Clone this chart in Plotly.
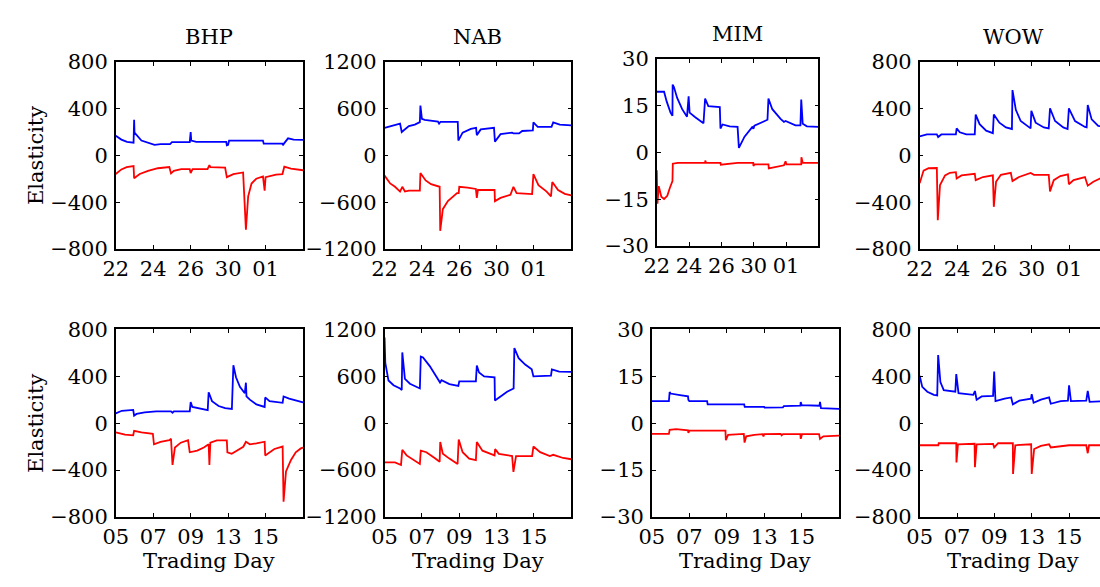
import plotly.graph_objects as go

# ---------------- tick labels / categories ----------------
stocks = ["BHP", "NAB", "MIM", "WOW"]
tick_pos = [0, 2, 4, 6, 8]
top_day_labels = ["22", "24", "26", "30", "01"]
bottom_day_labels = ["05", "07", "09", "13", "15"]
ytick_vals = {"BHP": [800, 400, 0, -400, -800],
              "NAB": [1200, 600, 0, -600, -1200],
              "MIM": [30, 15, 0, -15, -30],
              "WOW": [800, 400, 0, -400, -800]}

# ---------------- data (trading-day index, elasticity) ----------------
bhp1_blue_x = [0, 0.3, 0.6, 0.95, 0.98, 1.0, 1.37, 1.8, 2.07, 2.4, 2.9, 3.0, 3.95, 4.0, 4.03, 4.3, 5.9, 5.93, 6.0, 6.05, 7.86, 7.9, 8.9, 8.93, 9.0, 9.2, 9.5, 10]
bhp1_blue_y = [168, 135, 115, 108, 304, 195, 127, 108, 90, 97, 97, 113, 113, 200, 127, 115, 115, 86, 90, 127, 127, 100, 100, 86, 105, 146, 135, 132]
bhp1_red_x = [0, 0.3, 0.58, 0.95, 0.98, 1.28, 1.72, 2.25, 2.86, 2.95, 3.1, 3.5, 3.95, 4.0, 4.1, 4.9, 5.0, 5.05, 5.84, 5.93, 6.28, 6.8, 6.95, 7.07, 7.25, 7.5, 7.86, 7.95, 8.0, 8.56, 8.9, 9.0, 9.35, 10]
bhp1_red_y = [-159, -120, -100, -91, -195, -159, -132, -110, -100, -154, -132, -118, -118, -151, -118, -118, -83, -100, -104, -186, -160, -146, -636, -350, -241, -200, -180, -301, -186, -165, -160, -97, -113, -127]

nab1_blue_x = [0, 0.5, 0.83, 0.92, 1.3, 1.62, 1.89, 1.92, 2.0, 2.15, 2.86, 2.92, 3.0, 3.92, 3.95, 4.18, 4.62, 4.9, 4.94, 5.15, 5.86, 5.91, 6.21, 6.83, 6.9, 7.2, 7.37, 7.94, 7.97, 8.2, 8.94, 9.03, 9.38, 10]
nab1_blue_y = [354, 385, 407, 300, 375, 395, 427, 640, 470, 456, 435, 407, 431, 431, 190, 292, 341, 354, 260, 333, 354, 177, 272, 292, 282, 282, 313, 321, 423, 366, 366, 423, 395, 386]
nab1_red_x = [0, 0.3, 0.56, 0.83, 0.95, 1.09, 1.3, 1.89, 1.92, 2.2, 2.49, 2.86, 2.95, 2.98, 3.12, 3.39, 3.65, 3.88, 3.97, 4.0, 4.44, 4.89, 4.94, 5.0, 5.89, 5.91, 6.21, 6.74, 6.9, 7.07, 7.9, 7.97, 8.24, 8.68, 8.91, 8.98, 9.29, 9.65, 10]
nab1_red_y = [-260, -360, -403, -464, -403, -464, -452, -452, -227, -321, -370, -395, -403, -968, -690, -587, -526, -485, -485, -403, -415, -431, -546, -444, -444, -587, -546, -505, -403, -485, -497, -239, -382, -464, -526, -341, -444, -493, -513]

mim1_blue_x = [0, 0.45, 0.61, 0.85, 0.97, 0.98, 1.06, 1.26, 1.57, 1.87, 1.97, 2.03, 2.38, 2.89, 2.99, 3.19, 3.9, 3.94, 4.07, 4.51, 5.0, 5.08, 5.43, 5.83, 5.93, 5.98, 6.04, 6.55, 6.85, 6.91, 7.15, 7.66, 7.87, 7.97, 8.58, 8.89, 8.94, 9.03, 9.29, 10]
mim1_blue_y = [19.5, 19.5, 16.4, 12.8, 11.8, 21.8, 21, 17.5, 13.9, 11.5, 18, 12.8, 11.3, 9.4, 17.3, 14.9, 14.6, 7.7, 9, 8.4, 8.2, 1.5, 5.1, 7.4, 8.3, 7.6, 8.6, 9.8, 10.5, 17.3, 13.9, 10.8, 9.8, 10.1, 8.7, 8.7, 17, 9.2, 8.4, 8.2]
mim1_red_x = [0, 0.04, 0.12, 0.28, 0.45, 0.65, 0.81, 0.97, 0.99, 1.3, 2.99, 3.0, 3.05, 3.94, 3.96, 4.5, 5.0, 5.97, 5.98, 6.05, 6.91, 6.93, 7.56, 7.87, 7.97, 8.02, 8.94, 8.95, 9.03, 10]
mim1_red_y = [-5.7, -16.4, -10.8, -14.2, -14.9, -13.9, -11.3, -9.2, -3.6, -3.3, -3.3, -2.6, -3.3, -3.3, -3.9, -3.6, -3.3, -3.3, -4.3, -3.8, -3.8, -5.1, -4.4, -4.1, -2.8, -3.8, -3.8, -1.5, -3.3, -3.3]

wow1_blue_x = [0, 0.39, 0.92, 0.99, 1.16, 1.94, 1.98, 2.15, 2.5, 2.95, 3.0, 3.21, 3.56, 3.92, 3.97, 4.27, 4.62, 4.94, 4.97, 5.15, 5.41, 5.86, 5.94, 5.98, 6.21, 6.65, 6.91, 6.98, 7.25, 7.69, 7.92, 7.99, 8.32, 8.85, 8.94, 9.0, 9.21, 9.56, 10]
wow1_blue_y = [163, 179, 179, 157, 179, 179, 231, 198, 179, 179, 349, 267, 212, 190, 349, 280, 239, 226, 559, 390, 294, 245, 231, 381, 280, 239, 231, 403, 294, 239, 226, 403, 294, 243, 240, 431, 308, 253, 240]
wow1_red_x = [0, 0.21, 0.48, 0.92, 0.97, 1.09, 1.36, 1.62, 1.94, 1.98, 2.24, 2.95, 3.0, 3.39, 3.92, 3.97, 4.09, 4.35, 4.88, 4.97, 5.32, 5.86, 5.94, 6.12, 6.91, 6.98, 7.18, 7.53, 7.94, 7.99, 8.24, 8.85, 9.0, 9.3, 9.65, 10]
wow1_red_y = [-239, -130, -110, -108, -554, -253, -171, -149, -144, -198, -171, -157, -212, -185, -171, -440, -226, -166, -149, -220, -185, -157, -150, -166, -166, -308, -212, -177, -163, -247, -212, -185, -259, -226, -198, -190]

bhp2_blue_x = [0, 0.32, 0.93, 0.98, 1.11, 1.54, 2.16, 2.95, 3.03, 3.1, 3.95, 4.0, 4.09, 4.53, 4.91, 4.96, 5.14, 5.49, 5.84, 6.2, 6.28, 6.42, 6.63, 6.89, 6.95, 6.98, 7.16, 7.51, 7.95, 7.98, 8.21, 8.91, 8.96, 9.26, 9.7, 10]
bhp2_blue_y = [84, 106, 114, 65, 79, 93, 101, 101, 90, 101, 101, 180, 139, 125, 112, 264, 188, 147, 128, 122, 495, 392, 310, 256, 346, 229, 201, 161, 139, 220, 188, 174, 229, 210, 188, 177]
bhp2_red_x = [0, 0.49, 0.93, 0.98, 1.37, 1.98, 2.04, 2.39, 2.86, 2.95, 3.03, 3.16, 3.47, 3.86, 3.95, 4.35, 4.7, 4.96, 5.0, 5.05, 5.4, 5.93, 5.96, 6.19, 6.46, 6.81, 6.95, 7.16, 7.51, 7.95, 7.98, 8.21, 8.47, 8.91, 8.96, 9.09, 9.35, 9.61, 9.88, 10]
bhp2_red_y = [-79, -98, -103, -65, -79, -90, -180, -160, -144, -133, -356, -207, -166, -144, -248, -234, -207, -180, -356, -166, -147, -147, -248, -261, -234, -201, -158, -180, -172, -158, -275, -248, -220, -199, -669, -411, -316, -248, -215, -209]

nab2_blue_x = [0, 0.04, 0.21, 0.48, 0.83, 0.92, 0.95, 1.09, 1.36, 1.71, 1.89, 1.94, 2.06, 2.42, 2.77, 2.97, 3.05, 3.47, 3.95, 4.0, 4.89, 4.94, 5.06, 5.33, 5.89, 5.91, 6.21, 6.56, 6.91, 6.95, 7.18, 7.53, 7.88, 7.97, 8.91, 8.96, 9.35, 10]
nab2_blue_y = [1098, 771, 547, 486, 445, 424, 906, 567, 506, 465, 445, 853, 841, 731, 600, 520, 550, 500, 478, 535, 535, 739, 649, 600, 588, 290, 343, 404, 445, 963, 833, 751, 690, 600, 608, 690, 661, 657]
nab2_red_x = [0, 0.56, 0.88, 0.95, 1.18, 1.71, 1.89, 1.94, 2.24, 2.68, 2.95, 2.98, 3.12, 3.47, 3.91, 3.97, 4.18, 4.53, 4.89, 4.94, 5.24, 5.68, 5.89, 5.92, 6.12, 6.83, 6.9, 7.04, 7.9, 7.97, 8.33, 8.85, 9.03, 9.56, 10]
nab2_red_y = [-502, -502, -535, -339, -412, -494, -522, -351, -371, -445, -494, -241, -392, -453, -522, -208, -371, -453, -473, -241, -351, -392, -412, -331, -392, -420, -624, -420, -420, -298, -371, -420, -404, -445, -461]

mim2_blue_x = [0, 0.91, 0.95, 1.0, 1.5, 1.93, 1.95, 2.0, 2.95, 2.98, 4.93, 4.96, 6.0, 6.02, 7.0, 7.05, 7.93, 7.95, 8.0, 8.95, 8.98, 9.03, 10]
mim2_blue_y = [7.1, 7.1, 10.0, 9.5, 9.0, 8.6, 7.5, 7.1, 7.1, 6.0, 6.0, 5.2, 5.2, 5.0, 5.1, 5.5, 5.6, 6.8, 5.8, 5.6, 6.8, 4.8, 4.6]
mim2_red_x = [0, 0.91, 0.95, 1.3, 1.93, 1.95, 2.0, 3.93, 3.95, 4.07, 4.91, 4.95, 5.04, 5.47, 5.91, 5.96, 6.0, 6.88, 6.93, 7.0, 7.93, 7.95, 8.02, 8.93, 8.98, 9.16, 10]
mim2_red_y = [-3.4, -3.4, -2.1, -1.9, -2.3, -3.1, -2.4, -2.4, -5.4, -3.7, -3.4, -6.2, -4.2, -3.7, -3.5, -4.2, -3.5, -3.4, -3.9, -3.5, -3.5, -5.0, -3.5, -3.5, -5.0, -4.2, -4.0]

wow2_blue_x = [0, 0.14, 0.41, 0.76, 0.94, 0.99, 1.11, 1.29, 1.91, 1.96, 2.08, 2.87, 2.96, 3.05, 3.32, 3.93, 3.99, 4.06, 4.55, 4.9, 4.99, 5.34, 5.96, 6.0, 6.1, 6.49, 6.93, 7.02, 7.55, 7.94, 8.0, 8.1, 8.92, 9.0, 9.1, 9.7, 10]
wow2_blue_y = [405, 310, 269, 242, 237, 582, 351, 283, 269, 419, 256, 242, 275, 201, 229, 234, 441, 188, 210, 220, 161, 193, 210, 248, 174, 201, 220, 166, 188, 193, 324, 188, 193, 275, 182, 188, 188]
wow2_red_x = [0, 1.0, 1.02, 1.96, 1.97, 2.05, 2.94, 2.96, 3.05, 3.93, 3.99, 4.2, 4.99, 5.0, 5.12, 5.97, 6.0, 6.13, 6.49, 6.93, 7.02, 7.72, 8.0, 8.92, 9.0, 9.07, 10]
wow2_red_y = [-188, -188, -171, -171, -335, -180, -175, -376, -180, -176, -207, -171, -171, -433, -188, -180, -433, -220, -193, -180, -207, -198, -188, -188, -256, -188, -188]

series = {
    ("BHP", 1): (bhp1_blue_x, bhp1_blue_y, bhp1_red_x, bhp1_red_y),
    ("NAB", 1): (nab1_blue_x, nab1_blue_y, nab1_red_x, nab1_red_y),
    ("MIM", 1): (mim1_blue_x, mim1_blue_y, mim1_red_x, mim1_red_y),
    ("WOW", 1): (wow1_blue_x, wow1_blue_y, wow1_red_x, wow1_red_y),
    ("BHP", 2): (bhp2_blue_x, bhp2_blue_y, bhp2_red_x, bhp2_red_y),
    ("NAB", 2): (nab2_blue_x, nab2_blue_y, nab2_red_x, nab2_red_y),
    ("MIM", 2): (mim2_blue_x, mim2_blue_y, mim2_red_x, mim2_red_y),
    ("WOW", 2): (wow2_blue_x, wow2_blue_y, wow2_red_x, wow2_red_y),
}

W, H = 1100, 587
FONT = "DejaVu Serif"
FS = 21

# left, right, top, bottom in pixels
boxes = {
    ("BHP", 1): (104, 293.5, 52, 247),
    ("NAB", 1): (376, 565, 52, 247),
    ("MIM", 1): (651.5, 815, 49, 244),
    ("WOW", 1): (917.5, 1106.5, 52, 247),
    ("BHP", 2): (104, 293.5, 331, 526.5),
    ("NAB", 2): (376, 565, 331, 526.5),
    ("MIM", 2): (646.5, 836, 331, 526.5),
    ("WOW", 2): (917.5, 1106.5, 331, 526.5),
}

fig = go.Figure()
layout = {}
annotations = []

for i, key in enumerate(boxes):
    name, row = key
    n = i + 1
    xa = "x" if n == 1 else f"x{n}"
    ya = "y" if n == 1 else f"y{n}"
    l, r, t, b = boxes[key]
    right_vis = min(r, W)
    xmax = 10 * (right_vis - l) / (r - l)
    bx, by, rx, ry = series[key]
    fig.add_trace(go.Scatter(x=bx, y=by, mode="lines", xaxis=xa, yaxis=ya,
                             line=dict(color="#0000FF", width=1.8), showlegend=False))
    fig.add_trace(go.Scatter(x=rx, y=ry, mode="lines", xaxis=xa, yaxis=ya,
                             line=dict(color="#FF0000", width=1.8), showlegend=False))
    yv = ytick_vals[name]
    ymax = yv[0]
    clipped = r > W
    layout["xaxis" if n == 1 else f"xaxis{n}"] = dict(
        domain=[l / W, right_vis / W], anchor=ya, range=[0, xmax],
        tickmode="array", tickvals=tick_pos,
        ticktext=top_day_labels if row == 1 else bottom_day_labels,
        ticks="inside", ticklen=4, tickcolor="black", tickwidth=1,
        showline=True, linecolor="black", linewidth=1.5, mirror="ticks",
        showgrid=False, zeroline=False, tickangle=0,
        tickfont=dict(family=FONT, size=FS, color="black"), fixedrange=True)
    layout["yaxis" if n == 1 else f"yaxis{n}"] = dict(
        domain=[1 - b / H, 1 - t / H], anchor=xa, range=[-ymax, ymax],
        tickmode="array", tickvals=yv,
        ticktext=[str(v).replace("-", "\u2212") for v in yv],
        ticks="inside", ticklen=4, tickcolor="black", tickwidth=1,
        showline=True, linecolor="black", linewidth=1.5,
        mirror=False if clipped else "ticks",
        showgrid=False, zeroline=False, ticklabelstandoff=2,
        tickfont=dict(family=FONT, size=FS, color="black"), fixedrange=True)
    cx = (l + r) / 2
    if row == 1:
        annotations.append(dict(text=name, x=cx / W, y=1 - (t - 26) / H, xref="paper", yref="paper",
                                xanchor="center", yanchor="middle", showarrow=False,
                                font=dict(family=FONT, size=FS, color="black")))
    else:
        annotations.append(dict(text="Trading Day", x=cx / W, y=1 - 572 / H, xref="paper", yref="paper",
                                xanchor="center", yanchor="middle", showarrow=False,
                                font=dict(family=FONT, size=FS, color="black")))
    if name == "BHP":
        annotations.append(dict(text="Elasticity", x=24 / W, y=1 - ((t + b) / 2) / H,
                                xref="paper", yref="paper", xanchor="center", yanchor="middle",
                                textangle=-90, showarrow=False,
                                font=dict(family=FONT, size=FS, color="black")))

fig.update_layout(**layout)
fig.update_layout(width=W, height=H, margin=dict(l=0, r=0, t=0, b=0),
                  paper_bgcolor="white", plot_bgcolor="white",
                  annotations=annotations, showlegend=False)
fig.write_html("out.html", config={"displayModeBar": False})
